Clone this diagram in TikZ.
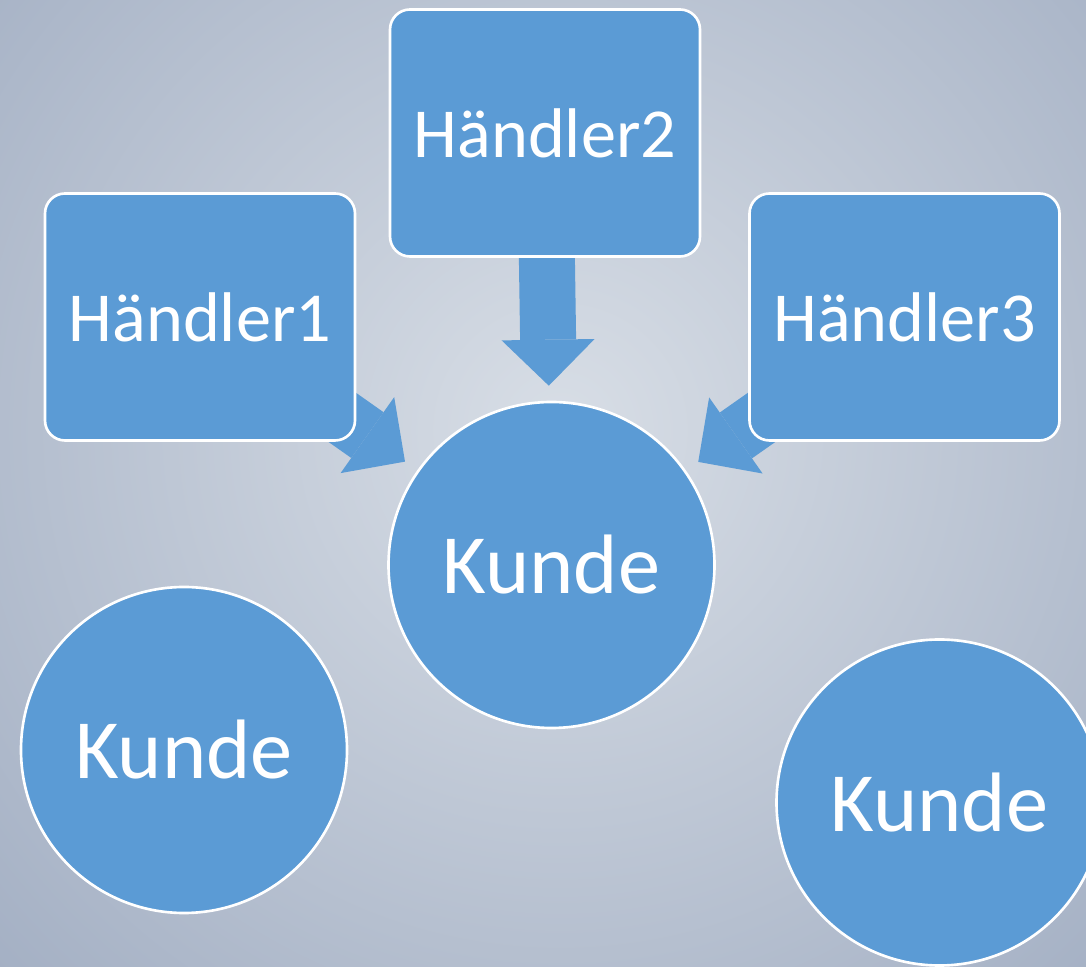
\documentclass[tikz,border=0pt]{standalone}
\usepackage{fontspec}
\setmainfont{Carlito}
\usepackage{tikz}
\usetikzlibrary{arrows.meta,backgrounds}
\definecolor{hkblue}{RGB}{91,155,213}
\definecolor{bginner}{RGB}{216,222,230}
\definecolor{bgouter}{RGB}{164,176,196}

\begin{document}
\begin{tikzpicture}[
  box/.style={draw=white, fill=hkblue, rectangle, rounded corners=0.4cm, minimum width=6.2cm, minimum height=4.94cm, line width=1.5pt, text=white, font=\fontsize{40}{48}\selectfont},
  kreis/.style={draw=white, fill=hkblue, circle, minimum size=6.52cm, line width=1.5pt, text=white, font=\fontsize{48}{56}\selectfont},
  blockarr/.style={hkblue, line width=1.12cm, -{Triangle[width=1.86cm, length=0.92cm, line width=0pt]}, shorten >=0.3cm},
]
\useasboundingbox (0,0) rectangle (21.72,19.32);
\clip (0,0) rectangle (21.72,19.32);

% ============ Haendler boxes (top) ============
\node[box] (hdl1) at (4.0,12.98) {Händler1};
\node[box] (hdl2) at (10.9,16.66) {Händler2};
\node[box] (hdl3) at (18.09,12.98) {Händler3};

% ============ Kunde circles ============
\node[kreis] (kunde0) at (11.03,8.02) {Kunde};
\node[kreis] (kundeL) at (3.68,4.32) {Kunde};
\node[kreis] (kundeR) at (18.79,3.27) {Kunde};

% ============ Background (radial, light centre) ============
\begin{scope}[on background layer]
  \clip (0,0) rectangle (21.72,19.32);
  \shade[inner color=bginner, outer color=bgouter] (11.2,10.72) circle (15.6cm);
\end{scope}

% ===================== ARROWS =====================
% all three Haendler point at the middle Kunde (shafts hidden behind the boxes)
\begin{scope}[on background layer]
  \draw[blockarr] (hdl1.center) -- (kunde0);
  \draw[blockarr] (hdl2.center) -- (kunde0);
  \draw[blockarr] (hdl3.center) -- (kunde0);
\end{scope}

\end{tikzpicture}
\end{document}
